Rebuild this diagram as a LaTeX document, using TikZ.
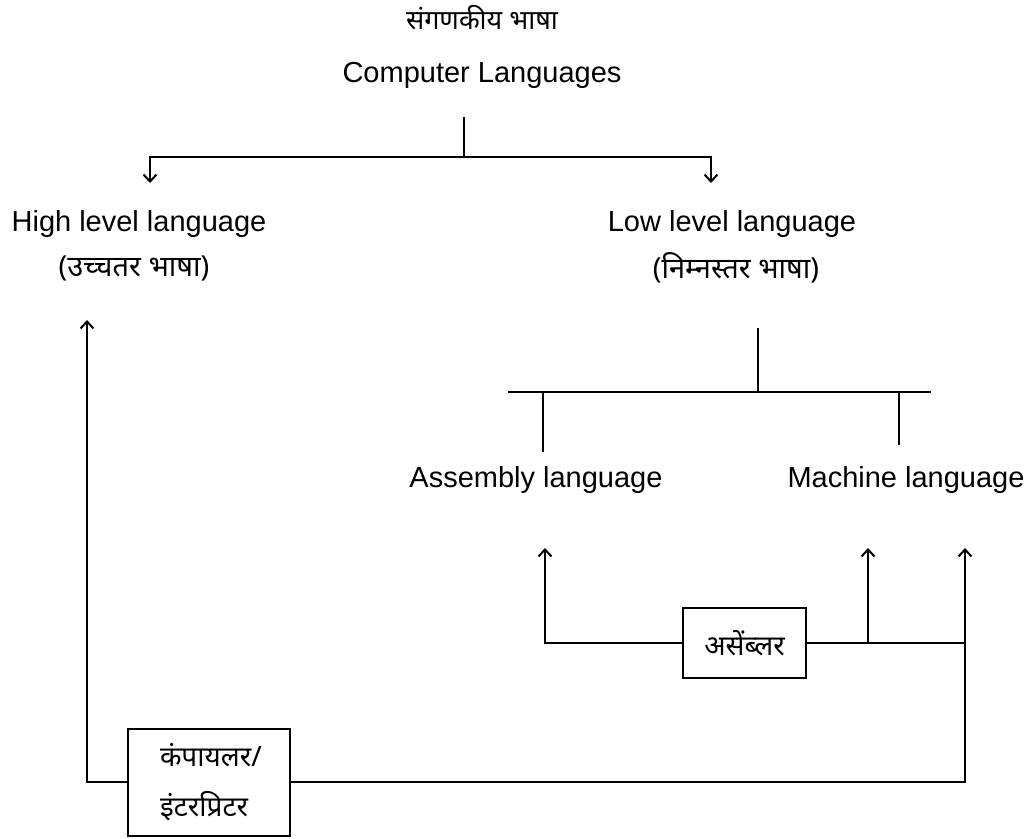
\documentclass[tikz,border=0pt]{standalone}
\usepackage{fontspec}
\setmainfont{Liberation Sans}
\newfontfamily\hindi[Script=Devanagari]{Noto Sans}
\usetikzlibrary{positioning,arrows.meta}
\tikzstyle{label} = [inner sep=0pt, font=\fontsize{29}{34}\selectfont]
\tikzstyle{hlabel} = [inner sep=0pt, font=\hindi\fontsize{29}{34}\selectfont]
\tikzstyle{tool} = [rectangle, draw=black, line width=2pt, font=\hindi\fontsize{28}{50}\selectfont]
\tikzstyle{line} = [line width=2pt]
\tikzstyle{arrow} = [line width=2pt,-{Straight Barb[length=7pt,width=13pt,line width=2pt]}]

\begin{document}
\begin{tikzpicture}[x=1pt,y=-1pt]
\useasboundingbox (0,0) rectangle (1033,838);
% top of the tree
\node (titlehi) [hlabel, font=\hindi\fontsize{27}{32}\selectfont] at (482,18) {संगणकीय भाषा};
\node (complang) [label] at (482,75) {Computer Languages};
\node (high) [label] at (139,224) {High level language};
\node (highhi) [hlabel] at (134,268) {(उच्चतर भाषा)};
\node (low) [label] at (732,224) {Low level language};
\node (lowhi) [hlabel] at (736,268) {(निम्नस्तर भाषा)};
\coordinate (cstem) at (464,117);
\coordinate (cjoin) at (464,157);
\coordinate (highin) at (150,183);
\coordinate (lowin) at (711,183);
\draw [line] (cstem) -- (cjoin);
\draw [arrow] (cjoin) -| (highin);
\draw [arrow] (cjoin) -| (lowin);
% low level split
\node (asmlang) [label] at (536,480) {Assembly language};
\node (maclang) [label] at (906,480) {Machine language};
\coordinate (lstem) at (758,328);
\coordinate (ljoin) at (758,392);
\coordinate (lleft) at (508,392);
\coordinate (lright) at (931,392);
\coordinate (asmdrop) at (543,452);
\coordinate (macdrop) at (899,445);
\draw [line] (lstem) -- (ljoin);
\draw [line] (lleft) -- (lright);
\draw [line] (asmdrop |- lleft) -- (asmdrop);
\draw [line] (macdrop |- lleft) -- (macdrop);
% translators
\node (assembler) [tool, minimum width=123pt, minimum height=70pt] at (744.5,643) {असेंब्लर};
\node (compiler) [tool, minimum height=107pt, text width=98pt, inner xsep=32pt, align=left] at (209,782) {कंपायलर/\\इंटरप्रिटर};
\coordinate (asmin) at (545,548);
\coordinate (macin) at (868,548);
\coordinate (macin2) at (965,548);
\coordinate (highup) at (87,320);
\draw [arrow] (assembler.west) -| (asmin);
\draw [line] (assembler.east) -- (assembler.east -| macin2);
\draw [arrow] (assembler.east -| macin) -- (macin);
\draw [arrow] (compiler.east) -| (macin2);
\draw [arrow] (compiler.west) -| (highup);
\end{tikzpicture}
\end{document}
